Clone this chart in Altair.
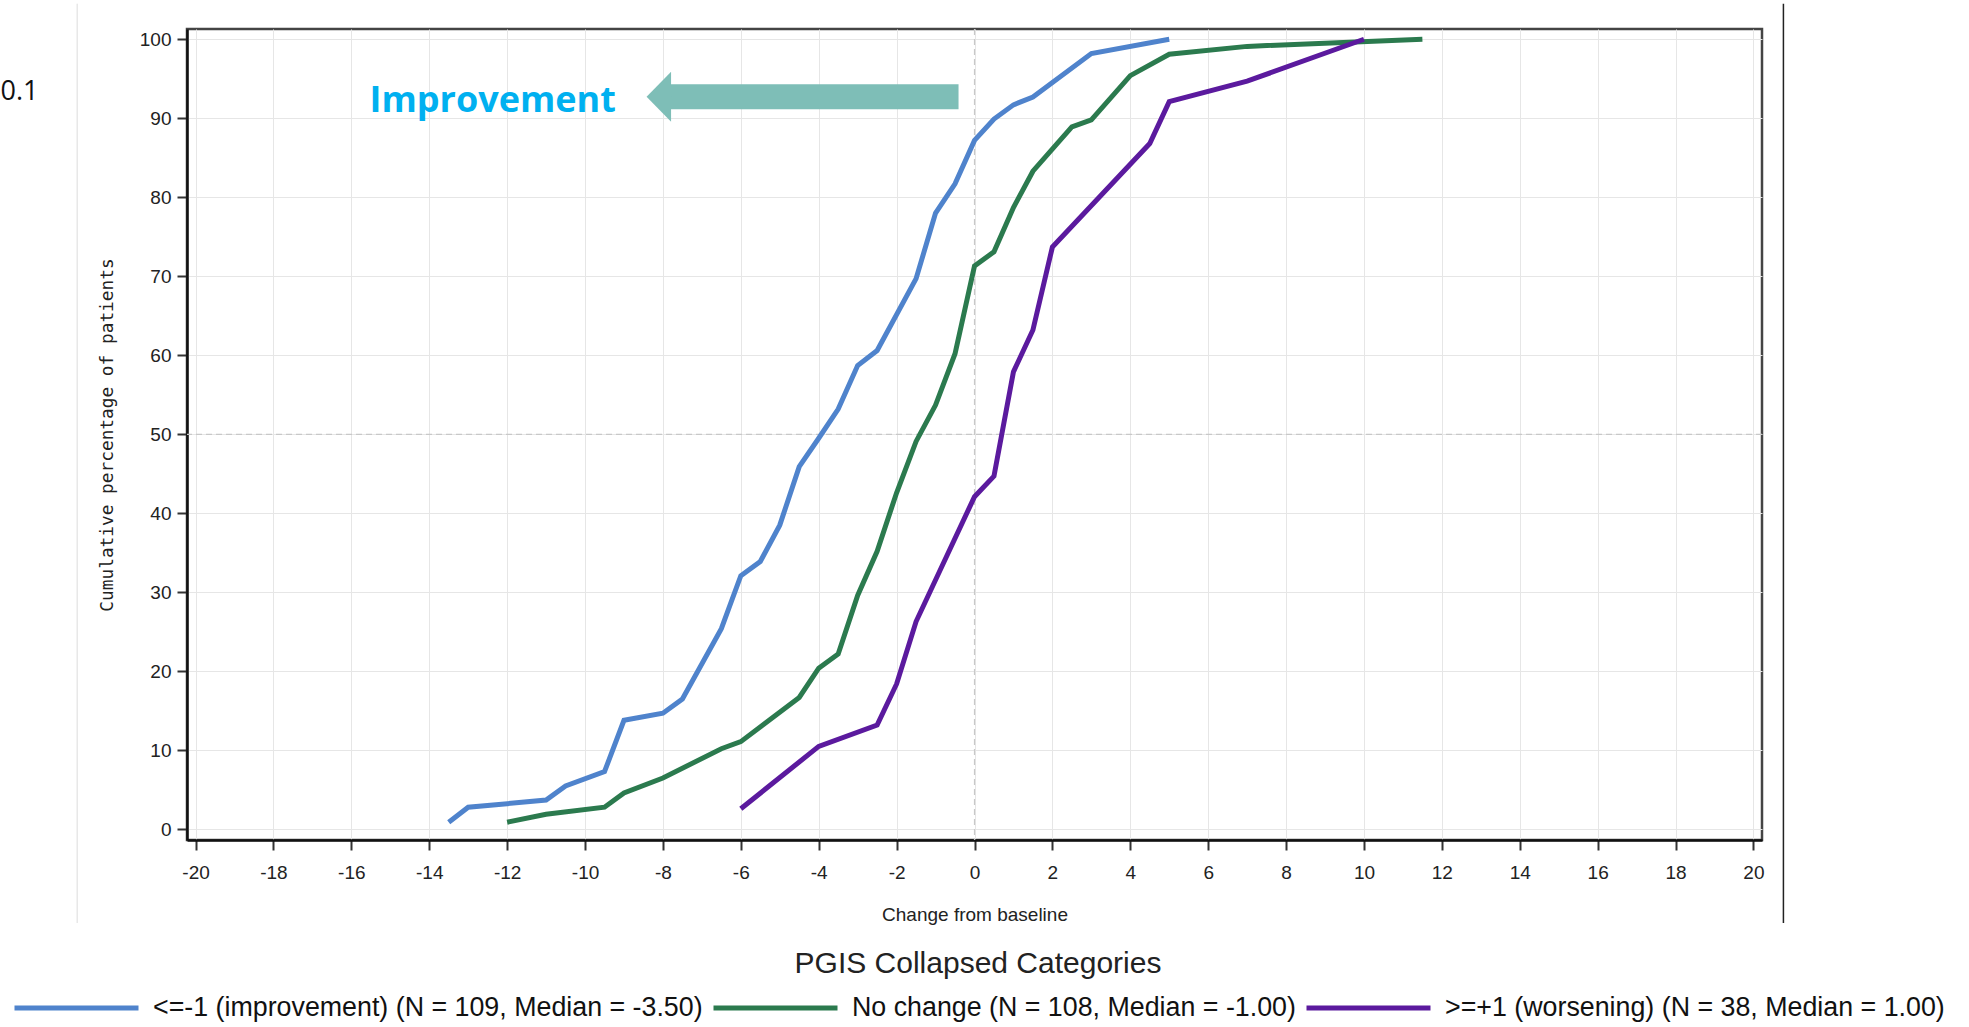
import altair as alt
import pandas as pd

# ---------------- data ----------------
categories = [
    "<=-1 (improvement) (N = 109, Median = -3.50)",
    "No change (N = 108, Median = -1.00)",
    ">=+1 (worsening) (N = 38, Median = 1.00)",
]
colors = ["#4F83CC", "#2B7A4E", "#5B1A9E"]

improve_x = [-13.5, -13, -11, -10.5, -9.5, -9, -8, -7.5, -6.5, -6, -5.5, -5, -4.5, -4,
             -3.5, -3, -2.5, -1.5, -1, -0.5, 0, 0.5, 1, 1.5, 3, 5]
improve_y = [0.9, 2.8, 3.7, 5.5, 7.3, 13.8, 14.7, 16.5, 25.4, 32.1, 33.9, 38.5, 45.9, 49.5,
             53.2, 58.7, 60.6, 69.7, 78.0, 81.7, 87.2, 89.9, 91.7, 92.7, 98.2, 100]

nochange_x = [-12, -11, -9.5, -9, -8, -6.5, -6, -4.5, -4, -3.5, -3, -2.5, -2, -1.5, -1,
              -0.5, 0, 0.5, 1, 1.5, 2.5, 3, 4, 5, 7, 11.5]
nochange_y = [0.9, 1.9, 2.8, 4.6, 6.5, 10.2, 11.1, 16.7, 20.4, 22.2, 29.6, 35.2, 42.6, 49.1,
              53.7, 60.2, 71.3, 73.1, 78.7, 83.3, 88.9, 89.8, 95.4, 98.1, 99.1, 100]

worsen_x = [-6, -4, -2.5, -2, -1.5, 0, 0.5, 1, 1.5, 2, 4.5, 5, 7, 10]
worsen_y = [2.6, 10.5, 13.2, 18.4, 26.3, 42.1, 44.7, 57.9, 63.2, 73.7, 86.8, 92.1, 94.7, 100]

x_ticks = list(range(-20, 21, 2))
y_ticks = list(range(0, 101, 10))

series = [(categories[0], improve_x, improve_y),
          (categories[1], nochange_x, nochange_y),
          (categories[2], worsen_x, worsen_y)]
rows = []
for name, xs, ys in series:
    for i, (xv, yv) in enumerate(zip(xs, ys)):
        rows.append({"change": xv, "pct": yv, "group": name, "order": i})
df = pd.DataFrame(rows)

# ---------------- scales / axes ----------------
xscale = alt.Scale(domain=[-20.22, 20.22], nice=False, zero=False)
yscale = alt.Scale(domain=[-1.35, 101.3], nice=False, zero=False)

LABEL_FONT = "Liberation Sans"
teal = "#7EBEB7"

x_axis = alt.Axis(
    values=x_ticks, labelExpr="'' + datum.value", grid=True, gridColor="#e6e6e6",
    gridWidth=1, tickSize=10, tickWidth=2, tickColor="#333333", domainColor="#111111",
    domainWidth=2.5, labelFont=LABEL_FONT, labelFontSize=19, labelColor="#222222",
    labelPadding=13, title="Change from baseline", titleFont=LABEL_FONT,
    titleFontSize=19, titleFontWeight="normal", titleColor="#222222",
    titleY=80, titleBaseline="alphabetic",
)
y_axis = alt.Axis(
    values=y_ticks, grid=True, gridColor="#e6e6e6", gridWidth=1, tickSize=10,
    tickWidth=2, tickColor="#333333", domainColor="#111111", domainWidth=2.5,
    labelFont=LABEL_FONT, labelFontSize=19, labelColor="#222222", labelPadding=6,
    title="Cumulative percentage of patients", titleFont="DejaVu Sans Mono",
    titleFontSize=17.8, titleFontWeight="normal", titleColor="#222222",
    titleX=-80, titleY=405.5, titleAngle=270, titleAlign="center",
    titleBaseline="middle",
)


def X(field):
    return alt.X(field, scale=xscale, axis=x_axis)


def Y(field):
    return alt.Y(field, scale=yscale, axis=y_axis)


lines = alt.Chart(df).mark_line(strokeWidth=5, interpolate="linear").encode(
    x=X("change:Q"),
    y=Y("pct:Q"),
    color=alt.Color(
        "group:N",
        scale=alt.Scale(domain=categories, range=colors),
        legend=alt.Legend(
            title="PGIS Collapsed Categories", orient="none", legendX=-175, legendY=920,
            direction="horizontal", columns=3, symbolType="stroke", symbolSize=15376,
            symbolStrokeWidth=5, labelFont=LABEL_FONT, labelFontSize=26.8, labelLimit=1200,
            labelOffset=12, columnPadding=8, labelColor="#111111",
            titleFont=LABEL_FONT, titleFontSize=30, titleFontWeight="normal",
            titleColor="#222222", titleAnchor="middle", titlePadding=14, titleLimit=1500,
            clipHeight=30, padding=0,
        ),
    ),
    order="order:Q",
)

# reference lines (dashed) at 50% and 0 change
ref_y = alt.Chart(pd.DataFrame({"y": [50]})).mark_rule(
    color="#c8c8c8", strokeDash=[6, 4], strokeWidth=1.2
).encode(y=Y("y:Q"))
ref_x = alt.Chart(pd.DataFrame({"x": [0]})).mark_rule(
    color="#c8c8c8", strokeDash=[6, 4], strokeWidth=1.2
).encode(x=X("x:Q"))

# annotation: arrow + "Improvement"
shaft = alt.Chart(pd.DataFrame({"x": [-7.80], "x2": [-0.41], "y": [92.72]})).mark_rule(
    color=teal, strokeWidth=25, strokeCap="butt"
).encode(x=X("x:Q"), x2="x2:Q", y=Y("y:Q"))
head = alt.Chart(pd.DataFrame({"x": [-8.105], "y": [92.72]})).mark_point(
    shape="M-0.49,0L0.49,-1L0.49,1Z", size=2500, filled=True, color=teal,
    opacity=1, strokeWidth=0,
).encode(x=X("x:Q"), y=Y("y:Q"))
improve_txt = alt.Chart(pd.DataFrame({"x": [-12.37], "y": [90.8], "t": ["Improvement"]})).mark_text(
    font="Open Sans", fontSize=36, fontWeight="bold", color="#00B0F0",
    align="center", baseline="alphabetic",
).encode(x=X("x:Q"), y=Y("y:Q"), text="t:N")

# slide decorations outside the plot
fig_txt = alt.Chart(pd.DataFrame({"x": [-25.01], "y": [93.3], "t": ["0.1"]})).mark_text(
    font="Open Sans", fontSize=27, color="#111111", align="left", baseline="middle",
).encode(x=X("x:Q"), y=Y("y:Q"), text="t:N")
left_line = alt.Chart(pd.DataFrame({"x": [-23.04], "y": [104.5], "y2": [-11.86]})).mark_rule(
    color="#dcdcdc", strokeWidth=1
).encode(x=X("x:Q"), y=Y("y:Q"), y2="y2:Q")
right_line = alt.Chart(pd.DataFrame({"x": [20.77], "y": [104.5], "y2": [-11.86]})).mark_rule(
    color="#222222", strokeWidth=1.5
).encode(x=X("x:Q"), y=Y("y:Q"), y2="y2:Q")

chart = alt.layer(
    ref_y, ref_x, lines, shaft, head, improve_txt, fig_txt, left_line, right_line
).properties(
    width=1575, height=811,
    autosize=alt.AutoSizeParams(type="none"),
    padding={"left": 187, "top": 29, "right": 207, "bottom": 187},
    background="white",
).configure_view(
    stroke="#444444", strokeWidth=2.5
)

chart.save("out.html", embed_options={"renderer": "svg", "actions": False})
